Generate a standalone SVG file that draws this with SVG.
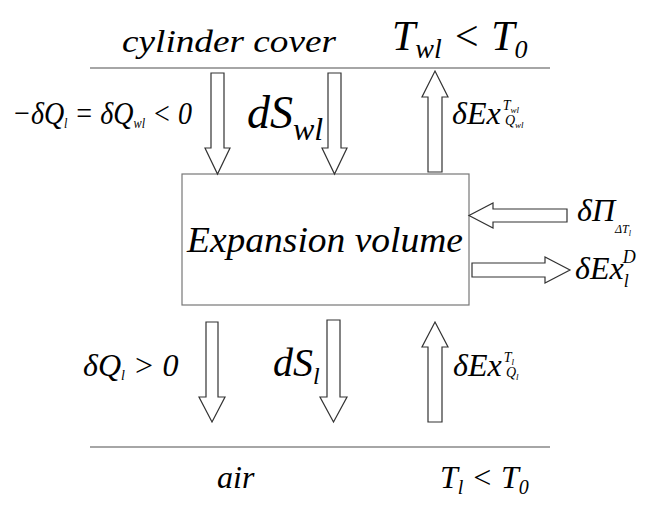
<svg xmlns="http://www.w3.org/2000/svg" width="659" height="515" viewBox="0 0 659 515">
<style>
text{font-family:'Liberation Serif','Times New Roman',Times,'DejaVu Serif',serif;font-style:italic;fill:#000}
.big{font-size:36px}
.mid{font-size:32px}
.sup{font-size:14px}
.arr{fill:#fff;stroke:#333;stroke-width:1.2}
.ln{stroke:#888;stroke-width:1.5}
</style>
<rect width="659" height="515" fill="#fff"/>
<g id="labels" font-family="Liberation Serif, serif">
<text class="mid" x="122" y="52" textLength="214" lengthAdjust="spacingAndGlyphs">cylinder cover</text>
<text x="392" y="50" font-size="42">T<tspan font-size="28" dy="8">wl</tspan><tspan dy="-8"> &lt; T</tspan><tspan font-size="26" dy="8">0</tspan></text>
<text class="mid" x="12" y="124" textLength="180" lengthAdjust="spacingAndGlyphs">−δQ<tspan class="sup" dy="4">l</tspan><tspan dy="-4"> = δQ</tspan><tspan class="sup" dy="4">wl</tspan><tspan dy="-4"> &lt; 0</tspan></text>
<text x="247" y="128" font-size="46">dS<tspan font-size="32" dy="12">wl</tspan></text>
<text class="mid" x="452" y="124">δEx<tspan class="sup" dx="2" dy="-14">T</tspan><tspan font-size="9" dy="3">wl</tspan><tspan class="sup" dx="-14" dy="12">Q</tspan><tspan font-size="9" dy="3">wl</tspan></text>
<text class="mid" x="83" y="376">δQ<tspan class="sup" dy="4">l</tspan><tspan dy="-4"> &gt; 0</tspan></text>
<text x="273" y="376" font-size="40">dS<tspan font-size="24" dy="8">l</tspan></text>
<text class="mid" x="453" y="376">δEx<tspan class="sup" dx="2" dy="-14">T</tspan><tspan font-size="9" dy="3">l</tspan><tspan class="sup" dx="-8" dy="12">Q</tspan><tspan font-size="9" dy="3">l</tspan></text>
<text class="mid" x="577" y="221">δΠ<tspan font-size="12" dy="12">ΔT</tspan><tspan font-size="8" dy="3">l</tspan></text>
<text class="mid" x="575" y="279">δEx<tspan font-size="18" dy="8">l</tspan><tspan font-size="18" dx="-6" dy="-24">D</tspan></text>
<text class="mid" x="217" y="488">air</text>
<text class="mid" x="440" y="488">T<tspan font-size="20" dy="6">l</tspan><tspan dy="-6"> &lt; T</tspan><tspan font-size="20" dy="6">0</tspan></text>
</g>
<g id="node-box">
<rect x="182" y="174" width="287" height="131" fill="#fff" stroke="#777" stroke-width="1.2"/>
<text class="big" x="325" y="252" text-anchor="middle" textLength="276" lengthAdjust="spacingAndGlyphs">Expansion volume</text>
</g>
<g id="boundaries">
<line class="ln" x1="90" y1="68" x2="550" y2="68"/>
<line class="ln" x1="90" y1="447" x2="550" y2="447"/>
</g>
<g id="connectors">
<path class="arr" d="M211 73H224V148H230L217.5 174L205 148H211Z"/>
<path class="arr" d="M328 73H341V148H347L334.5 174L322 148H328Z"/>
<path class="arr" d="M428 172V97H422L435 71L448 97H442V172Z"/>
<path class="arr" d="M206 322H218V397H225L212 422L199 397H206Z"/>
<path class="arr" d="M327 320H340V397H347L333.5 422L320 397H327Z"/>
<path class="arr" d="M428 422V347H422L435 322L448 347H442V422Z"/>
<path class="arr" d="M567 209V222H493V228L469 215.5L493 203V209Z"/>
<path class="arr" d="M472 263H545V257L570 270L545 283V277H472Z"/>
</g>
</svg>
